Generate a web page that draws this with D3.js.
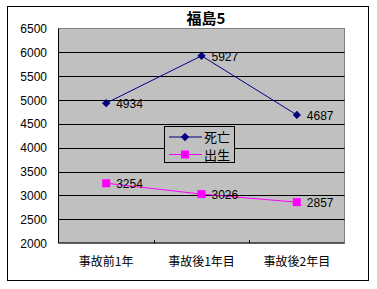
<!DOCTYPE html>
<html>
<head>
<meta charset="utf-8">
<script src="https://cdn.jsdelivr.net/npm/d3@7"></script>
<style>
body { margin: 0; background: #fff; }
text { font-family: "Liberation Sans", Arial, "Noto Sans CJK JP", sans-serif; }
.jp { font-family: "Noto Sans CJK JP", sans-serif; }
</style>
</head>
<body>
<svg id="chart" width="377" height="289"></svg>
<script>
var categories = ["事故前1年", "事故後1年目", "事故後2年目"];
var deaths = [4934, 5927, 4687];
var births = [3254, 3026, 2857];
var yTicks = [2000, 2500, 3000, 3500, 4000, 4500, 5000, 5500, 6000, 6500];
var seriesNames = ["死亡", "出生"];

var svg = d3.select("#chart");

// outer frame
svg.append("rect")
    .attr("x", 7.5).attr("y", 6.5)
    .attr("width", 361).attr("height", 274)
    .attr("fill", "#fff").attr("stroke", "#000").attr("stroke-width", 1);

var plotLeft = 58.5, plotRight = 344.5, plotTop = 28.5, plotBottom = 243;

var x = d3.scaleBand().domain(categories).range([plotLeft, plotRight]);
var y = d3.scaleLinear().domain([2000, 6500]).range([plotBottom, plotTop]);

// plot area
svg.append("rect")
    .attr("x", plotLeft).attr("y", plotTop)
    .attr("width", plotRight - plotLeft).attr("height", plotBottom - plotTop)
    .attr("fill", "#c0c0c0").attr("stroke", "#808080");

// grid lines
svg.append("g")
    .selectAll("line")
    .data(yTicks.filter(function (d) { return d > 2000 && d < 6500; }))
    .enter()
    .append("line")
    .attr("x1", plotLeft).attr("x2", plotRight)
    .attr("y1", function (d) { return Math.round(y(d)) + 0.5; })
    .attr("y2", function (d) { return Math.round(y(d)) + 0.5; })
    .attr("stroke", "#000");

// axes
svg.append("line")
    .attr("x1", plotLeft).attr("x2", plotLeft).attr("y1", plotTop).attr("y2", plotBottom)
    .attr("stroke", "#000");
svg.append("line")
    .attr("x1", plotLeft).attr("x2", plotRight).attr("y1", plotBottom).attr("y2", plotBottom)
    .attr("stroke", "#000");

// x ticks between categories (inside)
svg.append("g")
    .selectAll("line")
    .data(categories.slice(1))
    .enter()
    .append("line")
    .attr("x1", function (d) { return Math.round(x(d)) + 0.5; })
    .attr("x2", function (d) { return Math.round(x(d)) + 0.5; })
    .attr("y1", plotBottom - 3).attr("y2", plotBottom)
    .attr("stroke", "#000");

// y labels
svg.append("g")
    .selectAll("text")
    .data(yTicks)
    .enter()
    .append("text")
    .attr("x", 47)
    .attr("y", function (d) { return y(d) + 4.5; })
    .attr("text-anchor", "end")
    .attr("font-size", "12px")
    .text(function (d) { return d; });

// x labels
svg.append("g")
    .selectAll("text")
    .data(categories)
    .enter()
    .append("text")
    .attr("class", "jp")
    .attr("x", function (d) { return x(d) + x.bandwidth() / 2; })
    .attr("y", 266)
    .attr("text-anchor", "middle")
    .attr("font-size", "12px")
    .text(function (d) { return d; });

// title
svg.append("text")
    .attr("class", "jp")
    .attr("x", 206).attr("y", 24)
    .attr("text-anchor", "middle")
    .attr("font-size", "15px")
    .attr("font-weight", "bold")
    .text("福島5");

var line = d3.line()
    .x(function (d, i) { return x(categories[i]) + x.bandwidth() / 2; })
    .y(function (d) { return y(d); });

var diamond = d3.symbol().type(d3.symbolDiamond2).size(44);

function DrawSeries(values, color, marker) {
    var g = svg.append("g");
    g.append("path")
        .attr("d", line(values))
        .attr("fill", "none")
        .attr("stroke", color);

    var pts = g.selectAll("g.pt")
        .data(values)
        .enter()
        .append("g")
        .attr("transform", function (d, i) {
            return "translate(" + (x(categories[i]) + x.bandwidth() / 2) + "," + y(d) + ")";
        });

    if (marker == "diamond") {
        pts.append("path")
            .attr("d", diamond)
            .attr("fill", color);
    } else {
        pts.append("rect")
            .attr("x", -4).attr("y", -4)
            .attr("width", 8).attr("height", 8)
            .attr("fill", color);
    }

    pts.append("text")
        .attr("x", 10).attr("y", 5)
        .attr("font-size", "12px")
        .attr("fill", "#000")
        .text(function (d) { return d; });
}

DrawSeries(deaths, "#000080", "diamond");
DrawSeries(births, "#ff00ff", "square");

// legend
var legend = svg.append("g");
legend.append("rect")
    .attr("x", 164.5).attr("y", 126.5)
    .attr("width", 70).attr("height", 36)
    .attr("fill", "#c0c0c0").attr("stroke", "#000");

var items = legend.selectAll("g")
    .data(seriesNames)
    .enter()
    .append("g")
    .attr("transform", function (d, i) { return "translate(0," + (137 + i * 17.5) + ")"; });

items.append("line")
    .attr("x1", 169).attr("x2", 202)
    .attr("stroke", function (d, i) { return i == 0 ? "#000080" : "#ff00ff"; });

items.each(function (d, i) {
    var it = d3.select(this);
    if (i == 0) {
        it.append("path").attr("d", diamond).attr("transform", "translate(185,0)").attr("fill", "#000080");
    } else {
        it.append("rect").attr("x", 181).attr("y", -4).attr("width", 8).attr("height", 8).attr("fill", "#ff00ff");
    }
});

items.append("text")
    .attr("class", "jp")
    .attr("x", 204).attr("y", 5)
    .attr("font-size", "13px")
    .text(function (d) { return d; });
</script>
</body>
</html>
